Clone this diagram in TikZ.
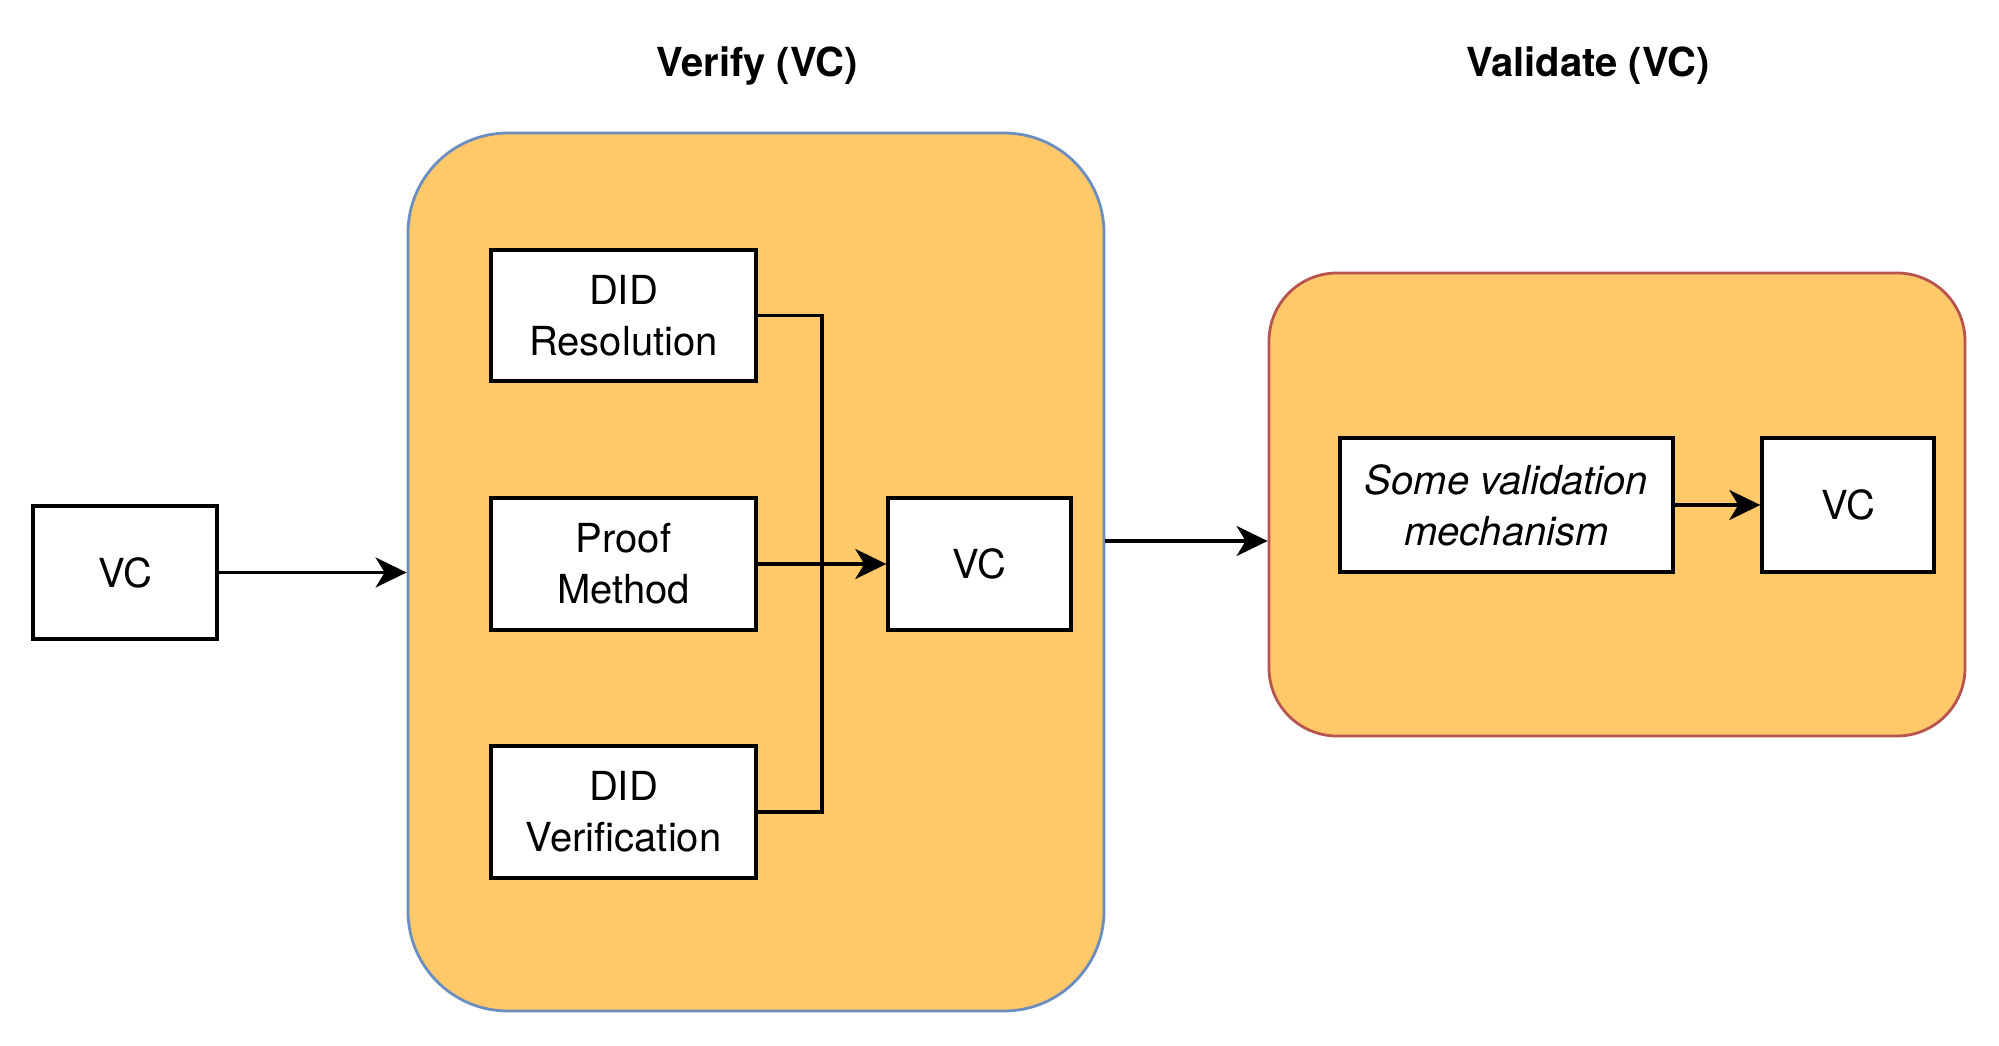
\documentclass[tikz,border=0pt]{standalone}
\usepackage{fontspec}
\setmainfont{TeX Gyre Heros}
\usetikzlibrary{arrows.meta}
\definecolor{panelfill}{HTML}{FFC869}
\definecolor{verifyedge}{HTML}{6C8EBF}
\definecolor{validateedge}{HTML}{B85450}
\tikzset{
  plainbox/.style={draw=black, fill=white, line width=3.4pt, inner sep=0pt,
    align=center, font=\fontsize{40}{51}\selectfont},
  panel/.style={fill=panelfill, line width=2.8pt, inner sep=0pt},
  heading/.style={font=\fontsize{40}{50}\selectfont\bfseries, inner sep=0pt},
  flow/.style={line width=3.2pt, -{Stealth[length=31pt,width=30pt,inset=9pt]}},
  joinline/.style={line width=3.2pt}
}
\begin{document}
\begin{tikzpicture}[x=1pt,y=-1pt]
\useasboundingbox (0,0) rectangle (1999,1046);

% group panels
\node[panel, draw=verifyedge, rounded corners=100pt, minimum width=696pt, minimum height=878pt]
  (verifypanel) at (756,572) {};
\node[panel, draw=validateedge, rounded corners=68pt, minimum width=696pt, minimum height=463pt]
  (validatepanel) at (1617,504.5) {};

% headings
\node[heading] (verifytitle) at (757,66) {Verify (VC)};
\node[heading] (validatetitle) at (1588,66) {Validate (VC)};

% boxes
\node[plainbox, minimum width=184pt, minimum height=133pt] (vcin) at (125,572.5) {VC};
\node[plainbox, minimum width=265pt, minimum height=131pt] (resolution) at (623.5,315.5) {DID\\Resolution};
\node[plainbox, minimum width=265pt, minimum height=132pt] (proof) at (623.5,564) {Proof\\Method};
\node[plainbox, minimum width=265pt, minimum height=132pt] (didver) at (623.5,812) {DID\\Verification};
\node[plainbox, minimum width=183pt, minimum height=132pt] (vcmid) at (979.5,564) {VC};
\node[plainbox, minimum width=333pt, minimum height=134pt] (mechanism) at (1506.5,505)
  {\itshape Some validation\\\itshape mechanism};
\node[plainbox, minimum width=172pt, minimum height=134pt] (vcout) at (1848,505) {VC};

% connectors
\coordinate (junction) at (822,564);
\draw[flow] (vcin.east) -- (vcin.east -| verifypanel.west);
\draw[joinline] (resolution.east) -| (junction);
\draw[joinline] (didver.east) -| (junction);
\draw[flow] (proof.east) -- (vcmid.west);
\draw[flow] (verifypanel.east |- 0,541) -- (validatepanel.west |- 0,541);
\draw[flow] (mechanism.east) -- (vcout.west);
\end{tikzpicture}
\end{document}
